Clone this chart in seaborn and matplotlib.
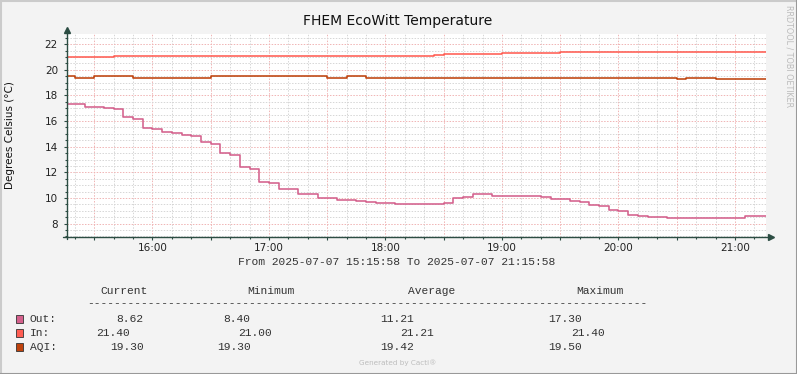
import pandas as pd
import matplotlib.pyplot as plt
import matplotlib.dates as mdates
from matplotlib.ticker import MultipleLocator, FuncFormatter
from matplotlib.lines import Line2D
from matplotlib.patches import Rectangle
import seaborn as sns

# Data (step changes, 5 minute samples)
day = "2025-07-07 "
t_start = "15:15:58"
t_end = "21:15:58"

out_times = ["15:15", "15:25", "15:35", "15:40", "15:45", "15:50", "15:55",
             "16:00", "16:05", "16:10", "16:15", "16:20", "16:25", "16:30", "16:35", "16:40", "16:45", "16:50", "16:55",
             "17:00", "17:05", "17:15", "17:25", "17:35", "17:45", "17:50", "17:55",
             "18:05", "18:30", "18:35", "18:40", "18:45", "18:55",
             "19:20", "19:25", "19:35", "19:40", "19:45", "19:50", "19:55",
             "20:00", "20:05", "20:10", "20:15", "20:25", "20:45", "20:55",
             "21:05"]
out_vals = [17.30, 17.10, 17.00, 16.93, 16.33, 16.17, 15.47,
            15.39, 15.18, 15.08, 14.92, 14.84, 14.40, 14.22, 13.51, 13.36, 12.44, 12.26, 11.25,
            11.18, 10.70, 10.30, 10.00, 9.85, 9.75, 9.67, 9.60,
            9.52, 9.60, 10.00, 10.07, 10.30, 10.14,
            10.07, 9.91, 9.75, 9.67, 9.44, 9.36, 9.04,
            8.97, 8.68, 8.58, 8.50, 8.45, 8.40, 8.45,
            8.62]

in_times = ["15:15", "15:40", "18:25", "18:30", "19:00", "19:30"]
in_vals = [21.00, 21.10, 21.15, 21.20, 21.30, 21.40]

aqi_times = ["15:15", "15:20", "15:30", "15:50", "16:30", "17:30", "17:40",
             "17:50", "20:25", "20:30", "20:35", "20:40", "20:45", "20:50"]
aqi_vals = [19.5, 19.4, 19.5, 19.4, 19.5, 19.4, 19.5,
            19.4, 19.35, 19.3, 19.35, 19.4, 19.35, 19.3]

series_names = ["Out:", "In:", "AQI:"]
series_colors = ["#D4608C", "#FF5D52", "#BF420C"]
stat_header = ["Current", "Minimum", "Average", "Maximum"]
stat_current = ["8.62", "21.40", "19.30"]
stat_minimum = ["8.40", "21.00", "19.30"]
stat_average = ["11.21", "21.21", "19.42"]
stat_maximum = ["17.30", "21.40", "19.50"]


def make_df(times, vals):
    df = pd.DataFrame({"time": pd.to_datetime([day + t for t in times]), "value": vals})
    last = pd.DataFrame({"time": [pd.Timestamp(day + t_end)], "value": [vals[-1]]})
    return pd.concat([df, last], ignore_index=True)


W, H = 797, 374
def fx(x):
    return x / W
def fy(y):
    return 1 - y / H

sns.set_theme(style="white")
plt.rcParams['font.family'] = ['DejaVu Sans']

bg = "#F3F3F3"
axis_c = "#2C4D43"
fig = plt.figure(figsize=(W / 100, H / 100), dpi=100, facecolor=bg)
ax = fig.add_axes([fx(67), fy(237), (766 - 67) / W, (237 - 34) / H])
ax.set_facecolor("white")

for (times, vals), color in zip([(out_times, out_vals), (in_times, in_vals), (aqi_times, aqi_vals)], series_colors):
    sns.lineplot(data=make_df(times, vals), x="time", y="value", color=color,
                 drawstyle="steps-post", linewidth=1.15, ax=ax, legend=False)

ax.set_xlim(pd.Timestamp(day + t_start), pd.Timestamp(day + t_end))
ax.set_ylim(6.95, 22.8)
ax.set_xlabel("")
ax.set_ylabel("")

# grid like rrdtool: dotted grey minor, dotted red-ish major
ax.xaxis.set_major_locator(mdates.MinuteLocator(byminute=[0, 30]))
ax.xaxis.set_minor_locator(mdates.MinuteLocator(byminute=range(0, 60, 10)))
ax.xaxis.set_major_formatter(FuncFormatter(
    lambda v, pos: mdates.num2date(v).strftime("%H:%M") if mdates.num2date(v).minute == 0 else ""))
ax.yaxis.set_major_locator(MultipleLocator(2))
ax.yaxis.set_minor_locator(MultipleLocator(0.5))
ax.grid(which="minor", color="#D6D6D6", linestyle=(0, (1.5, 1.5)), linewidth=0.7)
ax.grid(which="major", color="#F0B4B4", linestyle=(0, (1.5, 1.5)), linewidth=0.7)
ax.set_axisbelow(True)

ax.tick_params(axis="both", which="major", length=2.5, width=0.8, color=axis_c,
               labelsize=7.5, labelcolor="#222222", direction="out")
ax.tick_params(axis="both", which="minor", length=1.5, width=0.8, color=axis_c, direction="out")
ax.tick_params(axis="y", which="major", pad=4)
ax.tick_params(axis="x", which="major", pad=1.5)
ax.tick_params(left=True, bottom=True, which="both")

for s in ax.spines.values():
    s.set_visible(False)

# axes with arrows
ax.plot([0, 0], [-0.01, 1.01], transform=ax.transAxes, color=axis_c, lw=1, clip_on=False)
ax.plot([-0.006, 1.004], [0, 0], transform=ax.transAxes, color=axis_c, lw=1, clip_on=False)
ax.plot([0], [1.02], marker="^", markersize=4.5, color=axis_c, transform=ax.transAxes, clip_on=False)
ax.plot([1.007], [0], marker=">", markersize=4.5, color=axis_c, transform=ax.transAxes, clip_on=False)

# titles
fig.text(fx(398), fy(21), "FHEM EcoWitt Temperature", ha="center", va="center", fontsize=10, color="#111111")
fig.text(fx(10), fy(135), "Degrees Celsius (°C)", ha="center", va="center", rotation=90, fontsize=7.5, color="#111111")
fig.text(fx(789), fy(56), "RRDTOOL / TOBI OETIKER", ha="center", va="center", rotation=270,
         fontsize=5.8, color="#BBBBBB")

# text legend in monospace
mono = dict(family="Liberation Mono", fontsize=8.1, color="#333333", va="baseline")
fig.text(fx(397), fy(265), "From 2025-07-07 15:15:58 To 2025-07-07 21:15:58", ha="center", **mono)
for x, h in zip([100, 247, 408, 576], stat_header):
    fig.text(fx(x), fy(294.5), h, ha="left", **mono)
fig.text(fx(87), fy(306.5), "-" * 83, ha="left", **mono)

row_base = [322.5, 336, 350.5]
cur_x = [116, 96, 110]
min_x = [223, 238, 217]
avg_x = [380, 400, 380]
max_x = [548, 571, 548]
for i in range(3):
    yb = row_base[i]
    fig.patches.append(Rectangle((fx(16), fy(yb + 0.5)), 7 / W, 8 / H, transform=fig.transFigure,
                                 facecolor=series_colors[i], edgecolor="#333333", linewidth=0.6))
    fig.text(fx(30), fy(yb), series_names[i], ha="left", **mono)
    fig.text(fx(cur_x[i]), fy(yb), stat_current[i], ha="left", **mono)
    fig.text(fx(min_x[i]), fy(yb), stat_minimum[i], ha="left", **mono)
    fig.text(fx(avg_x[i]), fy(yb), stat_average[i], ha="left", **mono)
    fig.text(fx(max_x[i]), fy(yb), stat_maximum[i], ha="left", **mono)

fig.text(fx(398), fy(363), "Generated by Cacti®", ha="center", va="center", fontsize=5.2, color="#BDBDBD")

# shaded frame
fig.lines.append(Line2D([0, 1], [fy(0.5), fy(0.5)], transform=fig.transFigure, color="#CBCBCB", lw=1.5))
fig.lines.append(Line2D([fx(0.5), fx(0.5)], [0, 1], transform=fig.transFigure, color="#CBCBCB", lw=1.5))
fig.lines.append(Line2D([0, 1], [fy(373.5), fy(373.5)], transform=fig.transFigure, color="#999999", lw=1.5))
fig.lines.append(Line2D([fx(796.5), fx(796.5)], [0, 1], transform=fig.transFigure, color="#999999", lw=1.5))

fig.savefig("out.png", dpi=100, facecolor=bg)
